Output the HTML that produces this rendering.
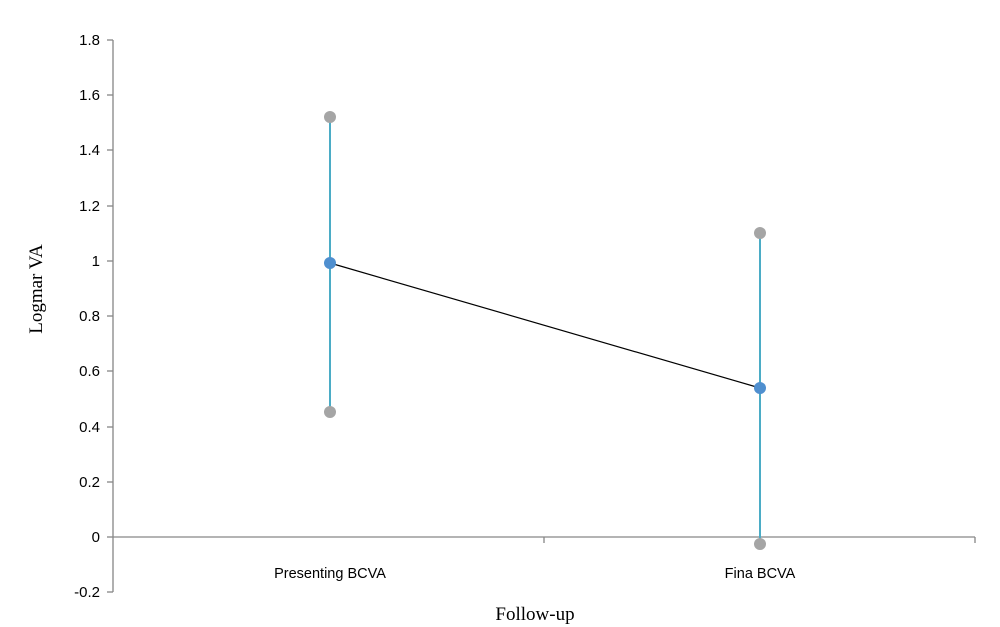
<!DOCTYPE html>
<html><head><style>body{margin:0;background:#fff}</style></head><body>
<svg width="1000" height="627" xmlns="http://www.w3.org/2000/svg" style="display:block">
<g stroke="#868686" stroke-width="1.3" fill="none">
<line x1="113" y1="40" x2="113" y2="592"/>
<line x1="113" y1="537" x2="975" y2="537"/>
<line x1="107" y1="40" x2="113" y2="40"/><line x1="107" y1="95" x2="113" y2="95"/>
<line x1="107" y1="150" x2="113" y2="150"/><line x1="107" y1="206" x2="113" y2="206"/>
<line x1="107" y1="261" x2="113" y2="261"/><line x1="107" y1="316" x2="113" y2="316"/>
<line x1="107" y1="371" x2="113" y2="371"/><line x1="107" y1="427" x2="113" y2="427"/>
<line x1="107" y1="482" x2="113" y2="482"/><line x1="107" y1="537" x2="113" y2="537"/>
<line x1="107" y1="592" x2="113" y2="592"/>
<line x1="544" y1="537" x2="544" y2="543"/><line x1="975" y1="537" x2="975" y2="543"/>
</g>
<g font-family="Liberation Sans, sans-serif" font-size="15" fill="#000" text-anchor="end">
<text x="100" y="45">1.8</text><text x="100" y="100">1.6</text><text x="100" y="155">1.4</text>
<text x="100" y="211">1.2</text><text x="100" y="266">1</text><text x="100" y="321">0.8</text>
<text x="100" y="376">0.6</text><text x="100" y="432">0.4</text><text x="100" y="487">0.2</text>
<text x="100" y="542">0</text><text x="100" y="597">-0.2</text>
</g>
<g font-family="Liberation Sans, sans-serif" font-size="14.5" fill="#000" text-anchor="middle">
<text x="330" y="578">Presenting BCVA</text><text x="760" y="578">Fina BCVA</text>
</g>
<text x="535" y="620" font-family="Liberation Serif, serif" font-size="19" text-anchor="middle">Follow-up</text>
<text transform="translate(42,289) rotate(-90)" font-family="Liberation Serif, serif" font-size="19" text-anchor="middle">Logmar VA</text>
<g stroke="#4BACC6" stroke-width="2">
<line x1="330" y1="117" x2="330" y2="413"/><line x1="760" y1="233" x2="760" y2="544"/>
</g>
<line x1="330" y1="263" x2="760" y2="388" stroke="#000" stroke-width="1.2"/>
<g fill="#A5A5A5">
<circle cx="330" cy="117" r="6"/><circle cx="330" cy="412" r="6"/>
<circle cx="760" cy="233" r="6"/><circle cx="760" cy="544" r="6"/>
</g>
<g fill="#4F8FCF">
<circle cx="330" cy="263" r="6"/><circle cx="760" cy="388" r="6"/>
</g>
</svg>
</body></html>
